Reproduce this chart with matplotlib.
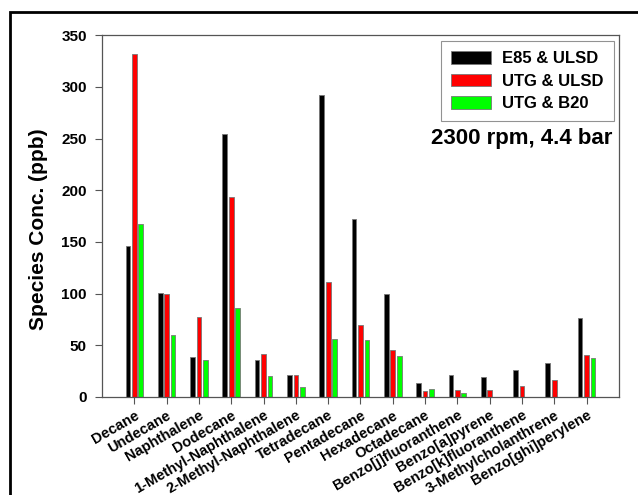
import numpy as np
import matplotlib.pyplot as plt
from matplotlib.patches import Rectangle

plt.rcParams['font.family'] = ['Liberation Sans', 'DejaVu Sans']
plt.rcParams['font.weight'] = 'bold'

species = ['Decane', 'Undecane', 'Naphthalene', 'Dodecane', '1-Methyl-Naphthalene',
           '2-Methyl-Naphthalene', 'Tetradecane', 'Pentadecane', 'Hexadecane',
           'Octadecane', 'Benzo[j]fluoranthene', 'Benzo[a]pyrene',
           'Benzo[k]fluoranthene', '3-Methylcholanthrene', 'Benzo[ghi]perylene']
e85_ulsd = [146, 101, 39, 254, 36, 21, 292, 172, 100, 14, 21, 19, 26, 33, 76]
utg_ulsd = [332, 100, 77, 193, 42, 21, 111, 70, 45, 6, 7, 7, 11, 16, 41]
utg_b20 = [167, 60, 36, 86, 20, 10, 56, 55, 40, 8, 4, 0, 0, 0, 38]

series = [('E85 & ULSD', e85_ulsd, 'black'),
          ('UTG & ULSD', utg_ulsd, 'red'),
          ('UTG & B20', utg_b20, '#00ff00')]

fig = plt.figure(figsize=(6.38, 4.95), dpi=100)
ax = fig.add_axes([0.160, 0.198, 0.810, 0.731])

# outer frame of the original figure
fig.patches.append(Rectangle((10 / 638, -0.05), 1.1, 1 - 12 / 495 + 0.05,
                             transform=fig.transFigure, fill=False,
                             edgecolor='black', linewidth=2))

x = np.arange(len(species))
offsets = [-0.2, 0.0, 0.2]
for (name, vals, color), off in zip(series, offsets):
    ax.bar(x + off, vals, width=0.145, color=color, edgecolor='#777777',
           linewidth=0.6, label=name)

ax.set_xlim(-1, 15)
ax.set_ylim(0, 350)
ax.set_yticks(range(0, 351, 50))
ax.set_xticks(x)
ax.set_xticklabels(species, rotation=30, ha='right', rotation_mode='anchor',
                   fontsize=10.5, fontweight='bold')
ax.tick_params(axis='y', labelsize=11, direction='out', length=5, width=0.8,
               color='#555555', pad=6)
ax.tick_params(axis='x', direction='out', length=5, width=0.8, color='#555555', pad=3)
for lab in ax.get_yticklabels():
    lab.set_fontweight('bold')
for sp in ax.spines.values():
    sp.set_color('#555555')
    sp.set_linewidth(0.9)

ax.set_ylabel('Species Conc. (ppb)', fontsize=15, fontweight='bold')
ax.yaxis.set_label_coords(-0.104, 0.464)

leg = ax.legend(loc='upper right', bbox_to_anchor=(0.99, 0.983),
                prop={'weight': 'bold', 'size': 12}, fancybox=False,
                handlelength=2.4, handleheight=0.75, labelspacing=0.45,
                borderpad=0.6, handletextpad=0.7, borderaxespad=0)
leg.get_frame().set_edgecolor('#777777')
leg.get_frame().set_linewidth(0.8)

ax.text(0.988, 0.715, '2300 rpm, 4.4 bar', transform=ax.transAxes, ha='right',
        va='center', fontsize=16, fontweight='bold')

fig.savefig('out.png', dpi=100)
